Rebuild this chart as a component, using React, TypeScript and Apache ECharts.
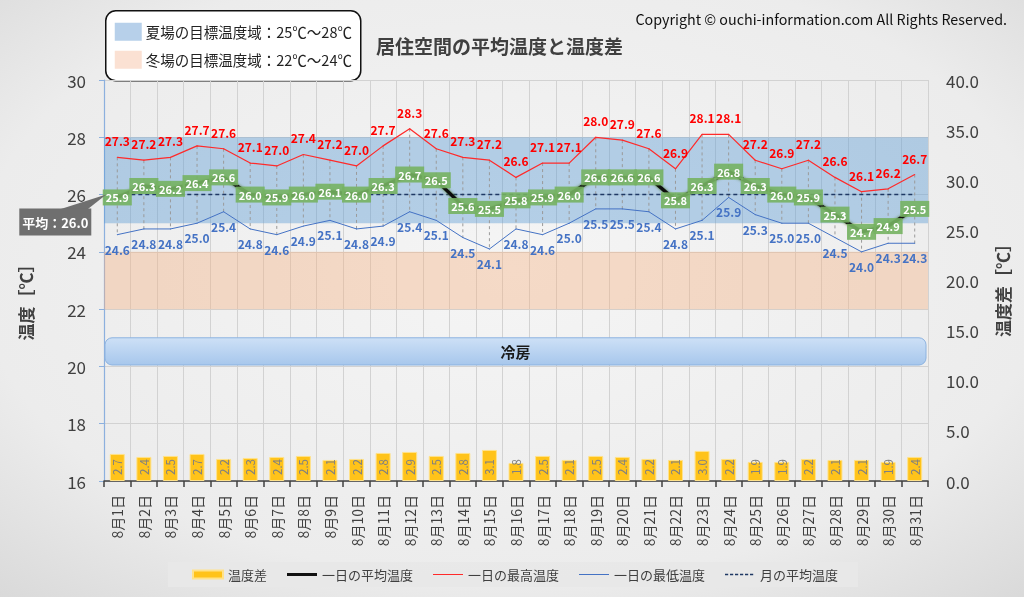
import React, { useEffect, useRef } from 'react';
import * as echarts from 'echarts';

const categories = [
  '8月1日', '8月2日', '8月3日', '8月4日', '8月5日', '8月6日', '8月7日', '8月8日', '8月9日', '8月10日',
  '8月11日', '8月12日', '8月13日', '8月14日', '8月15日', '8月16日', '8月17日', '8月18日', '8月19日', '8月20日',
  '8月21日', '8月22日', '8月23日', '8月24日', '8月25日', '8月26日', '8月27日', '8月28日', '8月29日', '8月30日', '8月31日',
];
const avgTemp = [25.9, 26.3, 26.2, 26.4, 26.6, 26.0, 25.9, 26.0, 26.1, 26.0, 26.3, 26.7, 26.5, 25.6, 25.5, 25.8, 25.9, 26.0, 26.6, 26.6, 26.6, 25.8, 26.3, 26.8, 26.3, 26.0, 25.9, 25.3, 24.7, 24.9, 25.5];
const maxTemp = [27.3, 27.2, 27.3, 27.7, 27.6, 27.1, 27.0, 27.4, 27.2, 27.0, 27.7, 28.3, 27.6, 27.3, 27.2, 26.6, 27.1, 27.1, 28.0, 27.9, 27.6, 26.9, 28.1, 28.1, 27.2, 26.9, 27.2, 26.6, 26.1, 26.2, 26.7];
const minTemp = [24.6, 24.8, 24.8, 25.0, 25.4, 24.8, 24.6, 24.9, 25.1, 24.8, 24.9, 25.4, 25.1, 24.5, 24.1, 24.8, 24.6, 25.0, 25.5, 25.5, 25.4, 24.8, 25.1, 25.9, 25.3, 25.0, 25.0, 24.5, 24.0, 24.3, 24.3];
const tempDiff = [2.7, 2.4, 2.5, 2.7, 2.2, 2.3, 2.4, 2.5, 2.1, 2.2, 2.8, 2.9, 2.5, 2.8, 3.1, 1.8, 2.5, 2.1, 2.5, 2.4, 2.2, 2.1, 3.0, 2.2, 1.9, 1.9, 2.2, 2.1, 2.1, 1.9, 2.4];
const monthAvg = 26.0;
const summerRange = [25, 28];
const winterRange = [22, 24];
const coolingRange = [20.05, 21];
const leftAxis = { min: 16, max: 30, interval: 2 };
const rightAxis = { min: 0, max: 40, interval: 5 };

const FONT = '"Noto Sans CJK JP", "Noto Sans", sans-serif';

// legend icons: keep a 30x8 bounding box with tiny corner specks, line drawn in the middle
const frame = 'M0,0 L0.01,0 L0.01,0.01 Z M29.99,8 L30,8 L30,7.99 Z ';
const lineIcon = (h: number) => `path://${frame}M0,${4 - h / 2} L30,${4 - h / 2} L30,${4 + h / 2} L0,${4 + h / 2} Z`;
const dashIcon = () => {
  let d = frame;
  for (let x = 0; x < 30; x += 5) d += `M${x},3.3 L${x + 3.2},3.3 L${x + 3.2},4.7 L${x},4.7 Z `;
  return `path://${d}`;
};

export default function App() {
  const ref = useRef<HTMLDivElement>(null);
  useEffect(() => {
    const chart = echarts.init(ref.current!, null, { renderer: 'svg' });
    const monthAvgData = categories.map(() => monthAvg);
    const option: any = {
      animation: false,
      textStyle: { fontFamily: FONT },
      backgroundColor: {
        type: 'radial', x: 0.5, y: 0.45, r: 0.95,
        colorStops: [
          { offset: 0, color: '#f5f5f5' },
          { offset: 0.55, color: '#ececec' },
          { offset: 0.85, color: '#d4d4d4' },
          { offset: 1, color: '#bdbdbd' },
        ],
      },
      title: [
        { text: '居住空間の平均温度と温度差', left: 371, top: 31, textStyle: { fontSize: 19, fontWeight: 'bold', color: '#404040', fontFamily: FONT } },
        { text: 'Copyright © ouchi-information.com All Rights Reserved.', right: 12, top: 6, textStyle: { fontSize: 14.3, fontWeight: 'normal', color: '#111', fontFamily: FONT } },
      ],
      grid: { left: 104, right: 96, top: 80, bottom: 116 },
      legend: {
        left: 168, top: 562,
        backgroundColor: 'rgba(232,232,232,0.9)',
        padding: [6, 20, 6, 24],
        itemGap: 20, itemWidth: 30, itemHeight: 8,
        textStyle: { fontSize: 13, color: '#404040', fontFamily: FONT },
        data: [
          { name: '温度差', icon: 'rect' },
          { name: '一日の平均温度', icon: lineIcon(3) },
          { name: '一日の最高温度', icon: lineIcon(1.2) },
          { name: '一日の最低温度', icon: lineIcon(1.2) },
          { name: '月の平均温度', icon: dashIcon() },
        ],
      },
      xAxis: {
        type: 'category', data: categories, boundaryGap: true,
        axisLine: { lineStyle: { color: '#404040', width: 1.5 } },
        axisTick: { show: true, length: 6, lineStyle: { color: '#404040', width: 1.5 } },
        axisLabel: { rotate: 90, interval: 0, fontSize: 14, color: '#404040', margin: 14, fontFamily: FONT },
        splitLine: { show: true, lineStyle: { color: '#d2d2d2', width: 1 } },
      },
      yAxis: [
        {
          type: 'value', ...leftAxis,
          axisLine: { show: true, lineStyle: { color: '#8cb0de', width: 1.2 } },
          axisTick: { show: true, length: 5, lineStyle: { color: '#8cb0de' } },
          axisLabel: { fontSize: 17, color: '#404040', margin: 18, fontFamily: FONT },
          splitLine: { show: true, lineStyle: { color: '#d2d2d2' } },
        },
        {
          type: 'value', position: 'right', ...rightAxis,
          axisLine: { show: false }, axisTick: { show: false },
          axisLabel: { fontSize: 17, color: '#404040', margin: 18, formatter: (v: number) => v.toFixed(1), fontFamily: FONT },
          splitLine: { show: false },
        },
      ],
      graphic: [
        {
          id: 'legendBox', type: 'group', left: 105, top: 10,
          children: [
            { type: 'rect', shape: { x: 0, y: 0, width: 255, height: 70, r: 10 }, style: { fill: '#fff', stroke: '#111', lineWidth: 1.5 } },
            { type: 'rect', shape: { x: 9, y: 12, width: 27, height: 18 }, style: { fill: '#b7d0ea' } },
            { type: 'text', x: 40, y: 21, style: { text: '夏場の目標温度域：25℃～28℃', fontSize: 14.5, fill: '#222', verticalAlign: 'middle', fontFamily: FONT } },
            { type: 'rect', shape: { x: 9, y: 40, width: 27, height: 18 }, style: { fill: '#fbe1d3' } },
            { type: 'text', x: 40, y: 49, style: { text: '冬場の目標温度域：22℃～24℃', fontSize: 14.5, fill: '#222', verticalAlign: 'middle', fontFamily: FONT } },
          ],
        },
        { id: 'leftName', type: 'text', x: 25, y: 298, rotation: Math.PI / 2, style: { text: '温度［℃］', fontSize: 17, fontWeight: 'bold', fill: '#404040', align: 'center', verticalAlign: 'middle', fontFamily: FONT } },
        { id: 'rightName', type: 'text', x: 1002, y: 286, rotation: Math.PI / 2, style: { text: '温度差［℃］', fontSize: 17, fontWeight: 'bold', fill: '#404040', align: 'center', verticalAlign: 'middle', fontFamily: FONT } },
      ],
      series: [
        {
          name: 'hilo', type: 'custom', z: 1, silent: true,
          data: categories.map((_, i) => [i, maxTemp[i], minTemp[i]]),
          encode: { x: 0, y: [1, 2] },
          renderItem: (params: any, api: any) => {
            const p1 = api.coord([api.value(0), api.value(1)]);
            const p2 = api.coord([api.value(0), api.value(2)]);
            return { type: 'line', shape: { x1: p1[0], y1: p1[1], x2: p2[0], y2: p2[1] }, style: { stroke: '#9a9a9a', lineWidth: 1, lineDash: [3, 3] } };
          },
        },
        {
          name: '温度差', type: 'bar', yAxisIndex: 1, data: tempDiff, barWidth: 15, z: 2,
          itemStyle: { color: '#ffc31a', borderColor: '#ffe28a', borderWidth: 1 },
          label: {
            show: true, position: 'insideBottom', distance: 6, rotate: 90, align: 'left', verticalAlign: 'middle',
            formatter: (p: any) => p.value.toFixed(1), color: '#808080', fontSize: 11.5, fontFamily: FONT,
          },
        },
        {
          name: 'cooling', type: 'custom', z: 3, silent: true,
          data: [[0, coolingRange[0], coolingRange[1]]],
          encode: { x: 0, y: [1, 2] },
          renderItem: (params: any, api: any) => {
            const top = api.coord([0, api.value(2)]);
            const bot = api.coord([0, api.value(1)]);
            const cs = params.coordSys;
            const x = cs.x + 1;
            const w = cs.width - 3;
            return {
              type: 'group',
              children: [
                {
                  type: 'rect', shape: { x, y: top[1], width: w, height: bot[1] - top[1], r: 7 },
                  style: {
                    fill: new echarts.graphic.LinearGradient(0, 0, 0, 1, [
                      { offset: 0, color: '#cde0f6' }, { offset: 1, color: '#a7c7ec' },
                    ]),
                    stroke: '#8db3e0', lineWidth: 1,
                  },
                },
                {
                  type: 'text',
                  style: { text: '冷房', x: x + w / 2, y: (top[1] + bot[1]) / 2, align: 'center', verticalAlign: 'middle', fontSize: 15, fontWeight: 'bold', fill: '#1a1a1a', fontFamily: FONT },
                },
              ],
            };
          },
        },
        {
          name: '一日の最高温度', type: 'line', data: maxTemp, z: 4,
          symbol: 'circle', symbolSize: 1, showSymbol: true,
          itemStyle: { color: '#ff2a2a' },
          lineStyle: { color: '#ff2a2a', width: 1.2 },
          label: { show: true, position: 'top', distance: 10, color: '#ff0000', fontSize: 12, fontWeight: 'bold', formatter: (p: any) => p.value.toFixed(1), fontFamily: FONT },
          markArea: {
            silent: true,
            data: [
              [{ yAxis: summerRange[0], itemStyle: { color: 'rgba(91,155,213,0.42)' } }, { yAxis: summerRange[1] }],
              [{ yAxis: winterRange[0], itemStyle: { color: 'rgba(244,177,131,0.4)' } }, { yAxis: winterRange[1] }],
            ],
          },
        },
        {
          name: '一日の最低温度', type: 'line', data: minTemp, z: 4,
          symbol: 'circle', symbolSize: 1, showSymbol: true,
          itemStyle: { color: '#4472c4' },
          lineStyle: { color: '#4472c4', width: 1 },
          label: { show: true, position: 'bottom', distance: 8, color: '#4472c4', fontSize: 12, fontWeight: 'bold', formatter: (p: any) => p.value.toFixed(1), fontFamily: FONT },
        },
        {
          name: '月の平均温度', type: 'line', data: monthAvgData, z: 4,
          symbol: 'none',
          itemStyle: { color: '#1f3864' },
          lineStyle: { color: '#1f3864', width: 1.5, type: [4, 3] },
        },
        {
          name: '一日の平均温度', type: 'line', data: avgTemp, z: 6,
          symbol: 'circle', symbolSize: 2, showSymbol: true,
          itemStyle: { color: '#111' },
          lineStyle: { color: '#111', width: 3.5, shadowColor: 'rgba(70,110,40,0.9)', shadowBlur: 3 },
          label: {
            show: true, position: 'inside', color: '#fff', fontSize: 11, fontWeight: 'bold',
            backgroundColor: 'rgba(118,178,98,0.9)', padding: [3, 3, 2, 3],
            formatter: (p: any) => p.value.toFixed(1), fontFamily: FONT,
          },
        },
      ],
    };
    chart.setOption(option);
    const pt = chart.convertToPixel({ xAxisIndex: 0, yAxisIndex: 0 }, [0, monthAvg]) as number[];
    const bx = pt[0] - 26 - 72;
    const by = pt[1] + 14;
    chart.setOption({
      graphic: [
        { id: 'calloutWedge', type: 'polygon', shape: { points: [[bx + 40, by + 1], [bx + 68, by + 1], [pt[0] - 11, pt[1]]] }, style: { fill: '#6f6f6f' }, z: 10 },
        { id: 'calloutBox', type: 'rect', shape: { x: bx, y: by, width: 72, height: 27 }, style: { fill: '#6f6f6f' }, z: 10 },
        { id: 'calloutText', type: 'text', x: bx + 36, y: by + 13.5, style: { text: '平均：26.0', fontSize: 13, fontWeight: 'bold', fill: '#fff', align: 'center', verticalAlign: 'middle', fontFamily: FONT }, z: 11 },
      ],
    });
    return () => chart.dispose();
  }, []);
  return <div ref={ref} style={{ position: 'fixed', left: 0, top: 0, width: 1024, height: 597 }} />;
}
